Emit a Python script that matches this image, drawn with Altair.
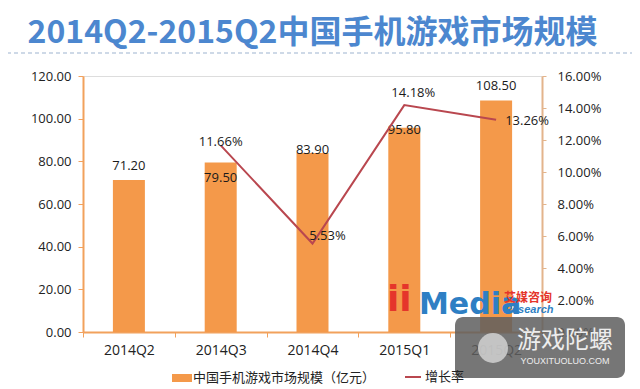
import altair as alt
import pandas as pd

# ---------------- data ----------------
quarters = ["2014Q2", "2014Q3", "2014Q4", "2015Q1", "2015Q2"]
market_size = [71.20, 79.50, 83.90, 95.80, 108.50]
size_labels = ["71.20", "79.50", "83.90", "95.80", "108.50"]
growth_rate = [None, 0.1166, 0.0553, 0.1418, 0.1326]
growth_labels = [None, "11.66%", "5.53%", "14.18%", "13.26%"]

bar_name = "中国手机游戏市场规模（亿元）"
line_name = "增长率"
title_text = "2014Q2-2015Q2中国手机游戏市场规模"

# label nudges (pixels) to mimic the manual placement in the reference
bar_label_dy = [-14, 16, -3, 2, -15]
line_label_dx = [None, 0, 15, 9, 31]
line_label_dy = [None, -3, -8, -12, 1]

# ---------------- style ----------------
ORANGE = "#F4994A"
AXIS_ORANGE = "#F2A15C"
RIGHT_AXIS = "#E3B48C"
LINE_RED = "#B9474F"
TITLE_BLUE = "#4C87CF"
NUM_FONT = "Open Sans, Noto Sans CJK SC"
CJK_FONT = "Noto Sans CJK SC"

df = pd.DataFrame({
    "quarter": quarters,
    "size": market_size,
    "size_label": size_labels,
    "growth": growth_rate,
    "growth_label": growth_labels,
    "bar_series": [bar_name] * len(quarters),
    "line_series": [line_name] * len(quarters),
})
one = pd.DataFrame({"k": [0]})

x_enc = alt.X(
    "quarter:N", sort=quarters,
    scale=alt.Scale(paddingInner=0, paddingOuter=0),
    axis=alt.Axis(title=None, labelAngle=0, tickBand="extent", domainColor=AXIS_ORANGE,
                  tickColor=AXIS_ORANGE, tickSize=5, labelFontSize=14, labelPadding=6,
                  labelColor="#222222", labelFont=NUM_FONT, domainWidth=2),
)

y_left = alt.Y(
    "size:Q", scale=alt.Scale(domain=[0, 120]),
    axis=alt.Axis(title=None, values=[0, 20, 40, 60, 80, 100, 120], format=".2f",
                  domainColor=AXIS_ORANGE, tickColor=AXIS_ORANGE, tickSize=5, domainWidth=2,
                  labelFontSize=13, labelPadding=7, labelColor="#222222", labelFont=NUM_FONT,
                  grid=False),
)
y_right = alt.Y(
    "growth:Q", scale=alt.Scale(domain=[0, 0.16]),
    axis=alt.Axis(title=None, orient="right", values=[0, 0.02, 0.04, 0.06, 0.08, 0.10, 0.12, 0.14, 0.16],
                  format=".2%", domainColor=RIGHT_AXIS, tickColor=RIGHT_AXIS, tickSize=4, domainWidth=2,
                  labelFontSize=13, labelPadding=11, labelColor="#222222", labelFont=NUM_FONT,
                  grid=False),
)

base = alt.Chart(df)

bars = base.mark_bar(size=32).encode(
    x=x_enc, y=y_left,
    fill=alt.Fill("bar_series:N", scale=alt.Scale(domain=[bar_name], range=[ORANGE]),
                  legend=alt.Legend(title=None, orient="none", legendX=89, legendY=292,
                                    symbolType="M-1,-0.4H1V0.4H-1Z", symbolSize=400,
                                    symbolStrokeWidth=0,
                                    labelFontSize=13, labelFont=CJK_FONT, labelColor="#222222",
                                    labelOffset=1, labelLimit=400)),
)

bar_text_layers = []
for q, d in zip(quarters, bar_label_dy):
    bar_text_layers.append(
        base.transform_filter(alt.datum.quarter == q).mark_text(
            dy=d, fontSize=13, font=NUM_FONT, color="#1a1a1a"
        ).encode(x=x_enc, y=y_left, text="size_label:N")
    )

bar_layer = alt.layer(bars, *bar_text_layers)

line = base.transform_filter("datum.growth != null").mark_line(strokeWidth=2).encode(
    x=x_enc, y=y_right,
    stroke=alt.Stroke("line_series:N", scale=alt.Scale(domain=[line_name], range=[LINE_RED]),
                      legend=alt.Legend(title=None, orient="none", legendX=321, legendY=292,
                                        symbolType="stroke", symbolSize=256, symbolStrokeWidth=2,
                                        labelFontSize=13, labelFont=CJK_FONT, labelColor="#222222",
                                        labelOffset=3, labelLimit=200)),
)

line_text_layers = []
for q, lab, dx, dy in zip(quarters, growth_labels, line_label_dx, line_label_dy):
    if lab is None:
        continue
    line_text_layers.append(
        base.transform_filter(alt.datum.quarter == q).mark_text(
            dx=dx, dy=dy, fontSize=13, font=NUM_FONT, color="#1a1a1a"
        ).encode(x=x_enc, y=y_right, text="growth_label:N")
    )

line_layer = alt.layer(line, *line_text_layers)

# ---------------- decorations (title rule, logo, watermark) ----------------
deco = alt.Chart(one)
title_rule = deco.mark_rule(color="#9DB3CF", strokeDash=[4, 3], strokeWidth=1).encode(
    x=alt.value(-83), x2=alt.value(557), y=alt.value(-23))

logo_media = deco.mark_text(text="Media", fontSize=30, fontWeight="bold", font="DejaVu Sans",
                            color="#2E7FC4", align="left", baseline="middle").encode(
    x=alt.value(336), y=alt.value(229))
logo_cn = deco.mark_text(text="艾媒咨询", fontSize=12, fontWeight="bold", font=CJK_FONT,
                         color="#E5352B", align="left", baseline="middle").encode(
    x=alt.value(421), y=alt.value(222))
logo_en = deco.mark_text(text="Research", fontSize=11, fontStyle="italic", fontWeight="bold",
                         font="Liberation Sans", color="#2E7FC4", align="left",
                         baseline="middle").encode(x=alt.value(421), y=alt.value(234))
logo_ii = deco.mark_text(text="ii", fontSize=36, fontWeight="bold", font="DejaVu Sans",
                         color="#E5352B", align="left", baseline="middle").encode(
    x=alt.value(304), y=alt.value(224))

wm_box = deco.mark_rect(color="#5E5E5E", opacity=0.85, cornerRadius=8).encode(
    x=alt.value(372), x2=alt.value(542), y=alt.value(241), y2=alt.value(302))
wm_icon = deco.mark_point(shape="circle", filled=True, size=900, color="#D8D8D8", opacity=0.8).encode(
    x=alt.value(410), y=alt.value(272))
wm_cn = deco.mark_text(text="游戏陀螺", fontSize=24, font=CJK_FONT, color="#EDEDED",
                       baseline="middle").encode(x=alt.value(482), y=alt.value(265))
wm_en = deco.mark_text(text="YOUXITUOLUO.COM", fontSize=9, font="Liberation Sans", color="#EDEDED",
                       baseline="middle").encode(x=alt.value(482), y=alt.value(285))

chart = alt.layer(
    bar_layer, line_layer, title_rule,
    logo_ii, logo_media, logo_cn, logo_en,
    wm_box, wm_icon, wm_cn, wm_en,
).resolve_scale(y="independent").properties(
    width=459, height=256,
    autosize=alt.AutoSizeParams(type="none"),
    padding={"left": 75, "top": 68, "right": 90, "bottom": 60},
    title=alt.Title(title_text, fontSize=32, fontWeight="bold", font=CJK_FONT, color=TITLE_BLUE,
                    anchor="middle", offset=3),
).configure_view(stroke=None).configure(background="white")

chart.save("out.html", embed_options={"renderer": "svg", "actions": False})
